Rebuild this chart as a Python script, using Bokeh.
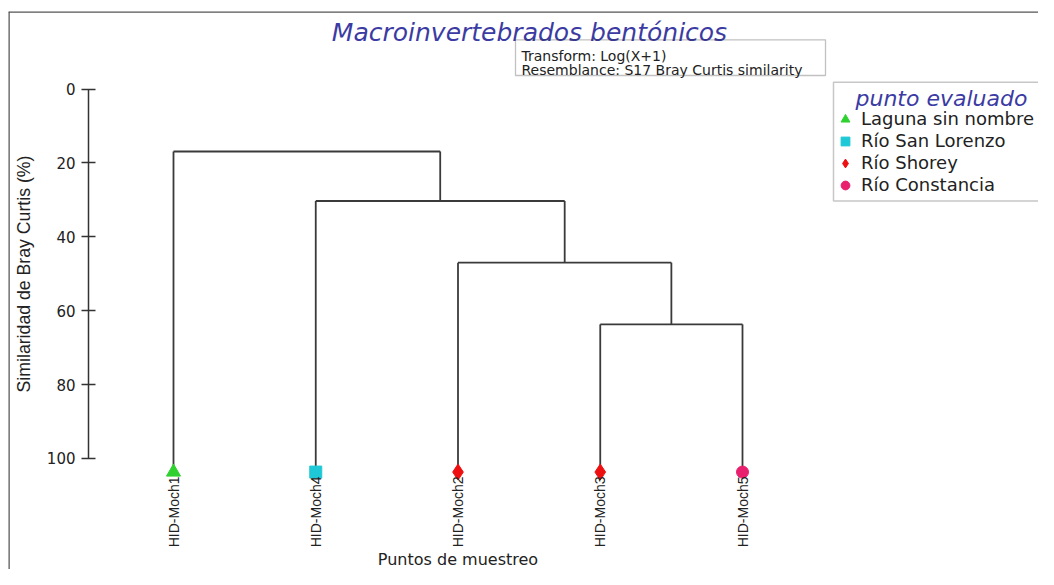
import math
from bokeh.plotting import figure
from bokeh.models import (Range1d, LinearAxis, FixedTicker, Span, Label, BoxAnnotation,
                          Legend, LegendItem, ColumnDataSource)
from bokeh.embed import file_html
from bokeh.resources import INLINE

# ---------------- data ----------------
samples = ["HID-Moch1", "HID-Moch4", "HID-Moch2", "HID-Moch3", "HID-Moch5"]
sample_group = ["Laguna sin nombre", "Río San Lorenzo", "Río Shorey", "Río Shorey", "Río Constancia"]
# agglomeration steps (node ids 0-4 = leaves in display order, 5.. = new clusters)
merge_left = [3, 2, 1, 0]
merge_right = [4, 5, 6, 7]
merge_similarity = [63.7, 47.0, 30.3, 16.9]
group_names = ["Laguna sin nombre", "Río San Lorenzo", "Río Shorey", "Río Constancia"]
group_markers = ["triangle", "square", "diamond", "circle"]
group_colors = ["#2fd12f", "#1ec8d6", "#ee1010", "#e8206e"]
group_sizes = [14, 12, 16, 12]
y_ticks = [0, 20, 40, 60, 80, 100]

# ---------------- layout helpers (reference pixel -> data) ----------------
X0_PX, X_STEP = 173.0, 142.25      # leaf 1 position and spacing
Y0_PX, Y_STEP = 88.6, 3.693        # similarity 0 position and px per %
def rx(px):
    return 1 + (px - X0_PX) / X_STEP
def ry(py):
    return (py - Y0_PX) / Y_STEP

W, H = 1038, 569
FL, FT = 8, 11                     # frame left / top in pixels
FR, FB = W, H
LEAF_Y = 103.7

p = figure(width=W, height=H, output_backend="svg", toolbar_location=None,
           x_axis_type=None, y_axis_type=None,
           x_range=Range1d(rx(FL), rx(FR)), y_range=Range1d(ry(FB), ry(FT)),
           min_border_left=FL, min_border_top=FT, min_border_right=0, min_border_bottom=0)
p.outline_line_color = None
p.background_fill_color = "white"
p.border_fill_color = "white"

# ---------------- dendrogram ----------------
n = len(samples)
node_x = [float(i + 1) for i in range(n)]
node_h = [LEAF_Y] * n
x0s, y0s, x1s, y1s = [], [], [], []
for a, b, s in zip(merge_left, merge_right, merge_similarity):
    for c in (a, b):
        x0s.append(node_x[c]); y0s.append(node_h[c]); x1s.append(node_x[c]); y1s.append(s)
    x0s.append(node_x[a]); y0s.append(s); x1s.append(node_x[b]); y1s.append(s)
    node_x.append((node_x[a] + node_x[b]) / 2)
    node_h.append(s)

p.segment(x0s, y0s, x1s, y1s, line_color="#3a3a3a", line_width=1.8)

gi = [group_names.index(g) for g in sample_group]
src = ColumnDataSource(dict(
    x=node_x[:n], y=[LEAF_Y] * n,
    marker=[group_markers[i] for i in gi],
    color=[group_colors[i] for i in gi],
    size=[group_sizes[i] for i in gi],
))
r = p.scatter("x", "y", marker="marker", size="size", fill_color="color",
              line_color="color", source=src)

# ---------------- axes ----------------
yax = LinearAxis(fixed_location=rx(88), bounds=(0, 100), ticker=FixedTicker(ticks=y_ticks),
                 axis_label="Similaridad de Bray Curtis (%)")
yax.axis_line_color = "#333333"
yax.axis_line_width = 1.5
yax.major_tick_line_color = "#333333"
yax.major_tick_line_width = 1.5
yax.minor_tick_line_color = None
yax.major_tick_in = 7
yax.major_tick_out = 7
yax.major_label_standoff = 6
yax.major_label_text_font = "DejaVu Sans"
yax.major_label_text_font_size = "15px"
yax.major_label_text_color = "#222222"
yax.axis_label_text_font = "Liberation Sans"
yax.axis_label_text_font_size = "17.7px"
yax.axis_label_text_font_style = "normal"
yax.axis_label_text_color = "#222222"
yax.axis_label_standoff = 10
p.add_layout(yax, "left")

xax = LinearAxis(fixed_location=ry(474), bounds=(1, n), ticker=FixedTicker(ticks=node_x[:n]),
                 axis_label="Puntos de muestreo")
xax.major_label_overrides = {i + 1: s for i, s in enumerate(samples)}
xax.major_label_orientation = math.pi / 2
xax.axis_line_color = None
xax.major_tick_line_color = None
xax.minor_tick_line_color = None
xax.major_tick_in = 0
xax.major_tick_out = 0
xax.major_label_standoff = 2
xax.major_label_text_font = "Liberation Sans"
xax.major_label_text_font_size = "14px"
xax.major_label_text_color = "#222222"
xax.axis_label_text_font = "DejaVu Sans"
xax.axis_label_text_font_size = "16px"
xax.axis_label_text_font_style = "normal"
xax.axis_label_text_color = "#222222"
xax.axis_label_standoff = 0
p.add_layout(xax, "below")

# ---------------- frame border (left / top) ----------------
p.add_layout(Span(location=rx(FL), dimension="height", line_color="#555555", line_width=2.5))
p.add_layout(Span(location=ry(FT), dimension="width", line_color="#555555", line_width=2.5))

# ---------------- title ----------------
p.add_layout(Label(x=rx(529), y=ry(32), text="Macroinvertebrados bentónicos",
                   text_align="center", text_baseline="alphabetic",
                   text_font="DejaVu Sans", text_font_size="25px", text_font_style="italic",
                   text_color="#3b3ba3"))

# ---------------- transform box ----------------
p.add_layout(BoxAnnotation(left=rx(515), right=rx(825), top=ry(39.3), bottom=ry(75),
                           fill_alpha=0, line_color="#333333", line_width=1.3))
for txt, yy in (("Transform: Log(X+1)", 55), ("Resemblance: S17 Bray Curtis similarity", 69.5)):
    p.add_layout(Label(x=rx(521), y=ry(yy), text=txt, text_align="left",
                       text_baseline="alphabetic", text_font="DejaVu Sans",
                       text_font_size="14px", text_color="#222222"))

# ---------------- legend ----------------
p.add_layout(BoxAnnotation(left=rx(833), right=rx(1047), top=ry(81.7), bottom=ry(200.5),
                           fill_alpha=0, line_color="#444444", line_width=1.5))
p.add_layout(Label(x=rx(855), y=ry(98), text="punto evaluado", text_align="left",
                   text_baseline="alphabetic", text_font="DejaVu Sans",
                   text_font_size="22px", text_font_style="italic", text_color="#3b3ba3"))

items = [LegendItem(label=g, renderers=[r], index=gi.index(k)) for k, g in enumerate(group_names)]
legend = Legend(items=items, location=(833 - FL, FB - 195.6), margin=0, padding=2, spacing=0,
                glyph_width=24, glyph_height=22, label_height=22, label_standoff=4,
                border_line_color=None, background_fill_alpha=0,
                label_text_font="DejaVu Sans", label_text_font_size="18px",
                label_text_color="#222222")
p.add_layout(legend)

open("out.html", "w").write(file_html(p, INLINE))
